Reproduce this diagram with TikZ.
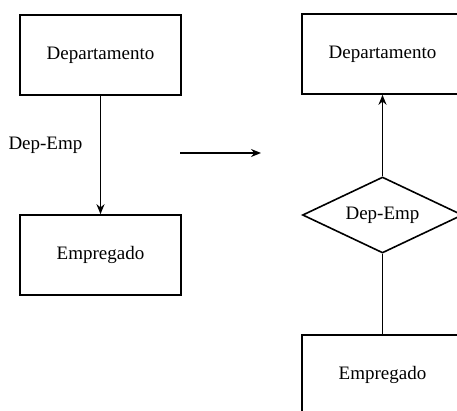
\documentclass[tikz,border=0pt]{standalone}
\usepackage{fontspec}
\setmainfont{Liberation Serif}
\usetikzlibrary{shapes.geometric,arrows.meta}

\begin{document}
\begin{tikzpicture}[x=1pt,y=-1pt,line width=1.6pt,
	entidade/.style={draw,rectangle,minimum width=161pt,minimum height=80pt},
	relacao/.style={draw,diamond,aspect=2.1,minimum width=160pt,minimum height=76pt,inner sep=0pt},
	seta/.style={-{Stealth[length=10pt,width=8pt]}},
	rotulo/.style={font=\fontsize{19}{22}\selectfont}]
	\useasboundingbox (0,0) rectangle (457,411);
	\clip (0,0) rectangle (457,411);
	\node[entidade,rotulo] (dep1) at (100.5,55) {Departamento};
	\node[entidade,rotulo] (emp1) at (100.5,255) {Empregado};
	\draw[seta] (dep1.south) -- (emp1.north) node[rotulo,left,pos=0.42,xshift=-14pt] (lbl1) {Dep-Emp};
	\coordinate (ini) at (180,153);
	\coordinate (fim) at (261,153);
	\draw[seta] (ini) -- (fim);
	\node[entidade,rotulo] (dep2) at (382.5,54) {Departamento};
	\node[relacao,rotulo] (rel) at (382.5,215) {Dep-Emp};
	\node[entidade,rotulo] (emp2) at (382.5,375) {Empregado};
	\draw[seta] (rel.north) -- (dep2.south);
	\draw (emp2.north) -- (rel.south);
\end{tikzpicture}
\end{document}
